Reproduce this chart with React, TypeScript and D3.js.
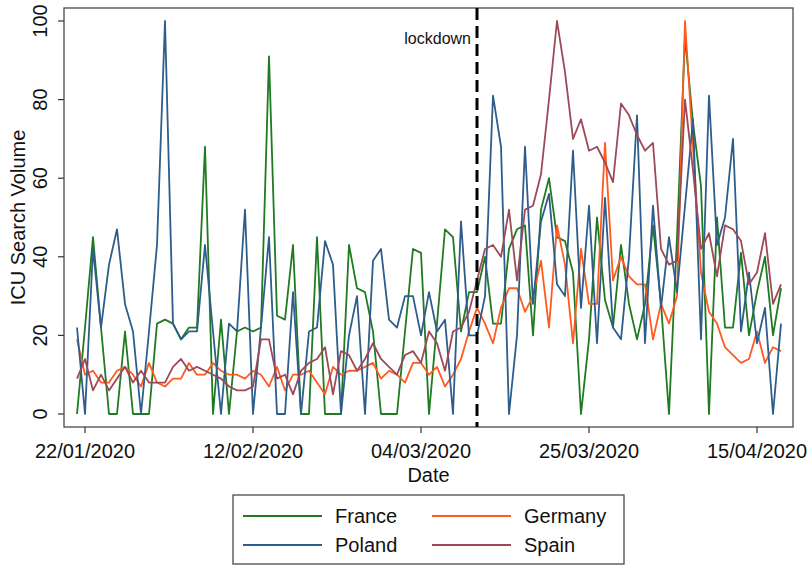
import React from "react";
import * as d3 from "d3";

// daily values, 21/01/2020 .. 18/04/2020
const startDay = "21/01/2020";
const endDay = "19/04/2020"; // exclusive
const tickLabels = ["22/01/2020", "12/02/2020", "04/03/2020", "25/03/2020", "15/04/2020"];
const lockdownDay = "11/03/2020";
const yTicks = [0, 20, 40, 60, 80, 100];

const france = [0, 22, 45, 22, 0, 0, 21, 0, 0, 0, 23, 24, 23, 19, 22, 22, 68, 0, 24, 0,
  21, 22, 21, 22, 91, 25, 24, 43, 0, 0, 45, 0, 0, 0, 43, 32, 31, 21, 0, 0,
  0, 21, 42, 41, 0, 23, 47, 45, 21, 31, 31, 40, 23, 23, 42, 47, 48, 20, 52, 60,
  45, 44, 36, 0, 19, 50, 29, 22, 43, 28, 19, 28, 48, 28, 0, 45, 96, 74, 58, 0,
  50, 22, 22, 41, 20, 31, 40, 20, 32];
const poland = [22, 0, 42, 22, 38, 47, 28, 21, 0, 21, 43, 100, 23, 19, 21, 21, 43, 21, 0, 23,
  21, 52, 0, 22, 45, 0, 0, 31, 0, 21, 22, 44, 38, 0, 20, 30, 0, 39, 42, 24,
  22, 30, 30, 20, 31, 21, 24, 0, 49, 20, 20, 30, 81, 68, 0, 20, 68, 28, 49, 56,
  33, 30, 67, 27, 53, 18, 55, 22, 19, 40, 76, 18, 53, 27, 45, 31, 53, 75, 19, 81,
  43, 50, 70, 21, 36, 18, 27, 0, 23];
const germany = [19, 10, 11, 8, 8, 11, 12, 10, 7, 13, 8, 7, 9, 9, 13, 10, 10, 13, 11, 10,
  10, 9, 11, 10, 7, 12, 6, 10, 10, 11, 8, 5, 12, 10, 11, 11, 12, 13, 9, 11,
  10, 8, 13, 13, 10, 12, 7, 10, 14, 21, 27, 23, 18, 27, 32, 32, 26, 30, 39, 22,
  48, 38, 18, 42, 28, 28, 69, 34, 40, 35, 33, 33, 19, 28, 23, 30, 100, 68, 36, 26,
  23, 17, 15, 13, 14, 21, 13, 17, 16];
const spain = [9, 14, 6, 10, 6, 9, 12, 8, 11, 8, 8, 8, 12, 14, 11, 12, 11, 10, 9, 7,
  6, 6, 7, 19, 19, 9, 10, 5, 11, 13, 14, 17, 5, 16, 15, 11, 14, 18, 14, 12,
  10, 15, 16, 13, 21, 18, 11, 21, 22, 26, 34, 42, 43, 40, 52, 34, 52, 53, 61, 80,
  100, 87, 70, 75, 67, 68, 64, 59, 79, 76, 71, 67, 69, 42, 38, 39, 80, 62, 42, 46,
  35, 48, 47, 44, 33, 36, 46, 28, 33];

const series = [
  { name: "France", values: france, color: "#1f7a22" },
  { name: "Germany", values: germany, color: "#ff5a1f" },
  { name: "Poland", values: poland, color: "#2e5d8c" },
  { name: "Spain", values: spain, color: "#9c4a58" },
];

const font = "'Liberation Sans', Arial, Helvetica, sans-serif";

export default function App() {
  const parse = d3.timeParse("%d/%m/%Y");
  const dates = d3.timeDay.range(parse(startDay)!, parse(endDay)!);

  const left = 64, right = 793, top = 8, bottom = 427;
  const x = d3.scaleTime()
    .domain([dates[0], dates[dates.length - 1]])
    .range([77, 781]);
  const y = d3.scaleLinear().domain([0, 100]).range([414, 21]);

  const line = d3.line<number>()
    .x((d, i) => x(dates[i]))
    .y(d => y(d));

  const lx = x(parse(lockdownDay)!);

  return (
    <svg width={807} height={565} style={{ position: "absolute", left: 0, top: 0, background: "#fff" }}
      fontFamily={font}>
      <rect x={left} y={top} width={right - left} height={bottom - top} fill="#fff" stroke="#4a4a4a" strokeWidth={1.3} />

      {/* y axis */}
      {yTicks.map(t => (
        <g key={t}>
          <line x1={left} x2={left - 6} y1={y(t)} y2={y(t)} stroke="#333" strokeWidth={1.2} />
          <text transform={`translate(47,${y(t)}) rotate(-90)`} textAnchor="middle" fontSize={20} fill="#111">{t}</text>
        </g>
      ))}
      <text transform={`translate(25,${(top + bottom) / 2}) rotate(-90)`} textAnchor="middle" fontSize={20} fill="#111">ICU Search Volume</text>

      {/* x axis */}
      {tickLabels.map(t => {
        const tx = x(parse(t)!);
        return (
          <g key={t}>
            <line x1={tx} x2={tx} y1={bottom} y2={bottom + 6} stroke="#333" strokeWidth={1.2} />
            <text x={tx} y={458} textAnchor="middle" fontSize={20} fill="#111">{t}</text>
          </g>
        );
      })}
      <text x={(left + right) / 2} y={482} textAnchor="middle" fontSize={20} fill="#111">Date</text>

      {/* series */}
      {series.map(s => (
        <path key={s.name} d={line(s.values) ?? ""} fill="none" stroke={s.color} strokeWidth={1.8} strokeLinejoin="round" />
      ))}

      {/* lockdown marker */}
      <line x1={lx} x2={lx} y1={top} y2={bottom} stroke="#000" strokeWidth={3} strokeDasharray="12,6" />
      <text x={lx - 6} y={44} textAnchor="end" fontSize={16} fill="#111">lockdown</text>

      {/* legend */}
      <rect x={233} y={495} width={391} height={69} fill="#fff" stroke="#4a4a4a" strokeWidth={1.3} />
      {series.map((s, i) => {
        const col = i % 2, row = Math.floor(i / 2);
        const lx0 = col === 0 ? 243 : 432;
        const ly = row === 0 ? 516 : 545;
        return (
          <g key={s.name}>
            <line x1={lx0} x2={lx0 + 79} y1={ly} y2={ly} stroke={s.color} strokeWidth={2} />
            <text x={lx0 + 92} y={ly + 7} fontSize={20} fill="#111">{s.name}</text>
          </g>
        );
      })}
    </svg>
  );
}
